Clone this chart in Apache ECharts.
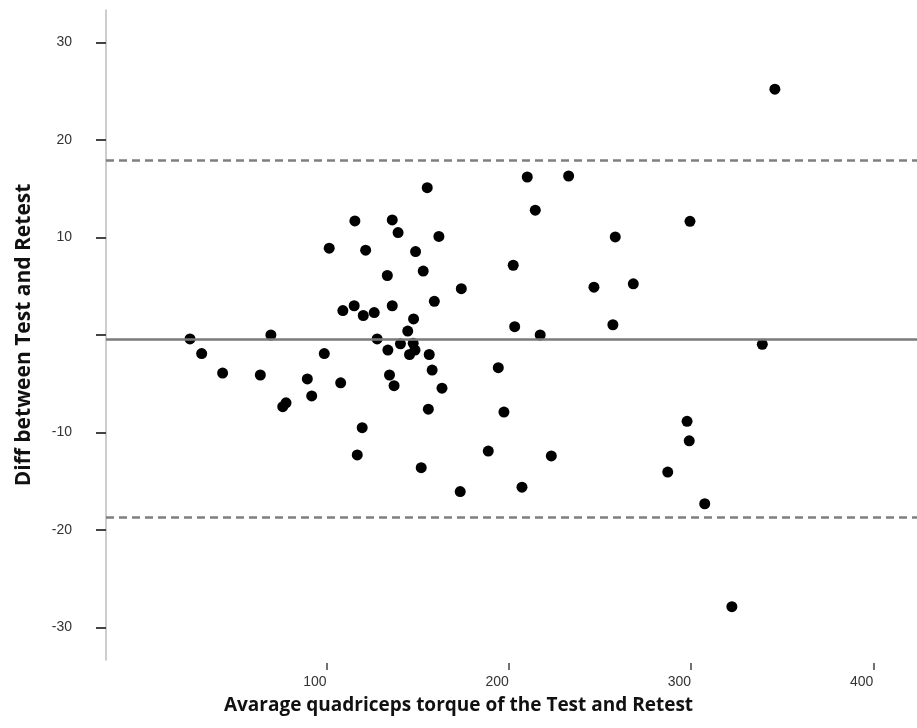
<!DOCTYPE html>
<html>
<head>
<meta charset="utf-8">
<script src="https://cdn.jsdelivr.net/npm/echarts@6/dist/echarts.min.js"></script>
<style>
html,body{margin:0;padding:0;background:#fff;}
#chart{width:917px;height:728px;}
</style>
</head>
<body>
<div id="chart"></div>
<script>
// Bland-Altman data: average of test & retest (x) vs difference (y)
const avgTorque = [25.0, 31.4, 42.9, 63.6, 69.4, 75.9, 77.7, 89.4, 91.8, 98.7,
  101.4, 107.7, 108.9, 115.1, 115.5, 116.8, 119.5, 120.1, 121.4, 126.1,
  127.7, 133.3, 133.6, 134.5, 136.0, 136.0, 137.0, 139.2, 140.5, 144.5,
  145.5, 147.5, 147.7, 148.5, 148.8, 151.9, 153.0, 155.2, 155.8, 156.3,
  157.9, 159.1, 161.6, 163.3, 173.3, 173.9, 188.7, 194.2, 197.3, 202.4,
  203.2, 207.2, 210.1, 214.5, 217.2, 223.3, 232.8, 246.7, 257.1, 258.4,
  268.3, 287.2, 299.4, 297.8, 299.0, 307.5, 322.4, 339.1, 346.0];
const diffTorque = [-0.4, -1.9, -3.9, -4.1, 0.0, -7.35, -6.95, -4.5, -6.25, -1.9,
  8.9, -4.9, 2.5, 3.0, 11.7, -12.3, -9.5, 2.0, 8.7, 2.3,
  -0.4, 6.1, -1.55, -4.1, 11.8, 3.0, -5.2, 10.5, -0.9, 0.4,
  -2.0, -0.85, 1.65, -1.55, 8.55, -13.6, 6.55, 15.1, -7.6, -2.0,
  -3.6, 3.45, 10.1, -5.45, -16.05, 4.75, -11.9, -3.35, -7.9, 7.15,
  0.85, -15.6, 16.2, 12.8, 0.0, -12.4, 16.3, 4.9, 1.05, 10.05,
  5.25, -14.05, 11.65, -8.85, -10.85, -17.3, -27.85, -0.95, 25.2];
const meanDiff = -0.4;
const upperLimit = 17.9;
const lowerLimit = -18.7;
const xTicks = [100, 200, 300, 400];
const yTicks = [-30, -20, -10, 0, 10, 20, 30];
const yLabels = [-30, -20, -10, 10, 20, 30];
const xTitle = 'Avarage quadriceps torque of the Test and Retest';
const yTitle = 'Diff between Test and Retest';

const points = avgTorque.map((x, i) => [x, diffTorque[i]]);

const chart = echarts.init(document.getElementById('chart'), null, {renderer: 'canvas'});
chart.setOption({
  animation: false,
  backgroundColor: '#ffffff',
  title: {
    text: xTitle,
    left: 'center',
    top: 696,
    padding: 0,
    textStyle: {
      fontFamily: 'Open Sans',
      fontWeight: 'bold',
      fontSize: 19,
      color: '#111'
    }
  },
  grid: {left: 106, right: 0, top: 10, bottom: 68, containLabel: false},
  xAxis: {
    type: 'value',
    min: -21.1,
    max: 424,
    offset: 3,
    axisLine: {show: false, onZero: false},
    splitLine: {show: false},
    axisTick: {
      show: true,
      customValues: xTicks,
      length: 7,
      lineStyle: {color: '#444', width: 1.5}
    },
    axisLabel: {
      customValues: xTicks,
      align: 'right',
      margin: 12,
      fontFamily: 'Liberation Sans',
      fontSize: 14,
      color: '#333'
    }
  },
  yAxis: {
    type: 'value',
    min: -33.32,
    max: 33.32,
    name: yTitle,
    nameLocation: 'middle',
    nameGap: 71,
    nameTextStyle: {
      fontFamily: 'Open Sans',
      fontWeight: 'bold',
      fontSize: 21,
      color: '#111'
    },
    axisLine: {show: true, onZero: false, lineStyle: {color: '#bdbdbd', width: 1.5}},
    splitLine: {show: false},
    axisTick: {
      show: true,
      customValues: yTicks,
      length: 10,
      lineStyle: {color: '#444', width: 2}
    },
    axisLabel: {
      customValues: yLabels,
      margin: 34,
      fontFamily: 'Liberation Sans',
      fontSize: 14,
      color: '#333'
    }
  },
  series: [{
    type: 'scatter',
    data: points,
    symbol: 'circle',
    symbolSize: 11,
    itemStyle: {color: '#000', opacity: 1},
    markLine: {
      silent: true,
      symbol: ['none', 'none'],
      label: {show: false},
      data: [
        {yAxis: meanDiff, lineStyle: {type: 'solid', color: '#7a7a7a', width: 2.5}},
        {yAxis: upperLimit, lineStyle: {type: [8, 5], color: '#7f7f7f', width: 2.5}},
        {yAxis: lowerLimit, lineStyle: {type: [8, 5], color: '#7f7f7f', width: 2.5}}
      ]
    }
  }]
});
</script>
</body>
</html>
